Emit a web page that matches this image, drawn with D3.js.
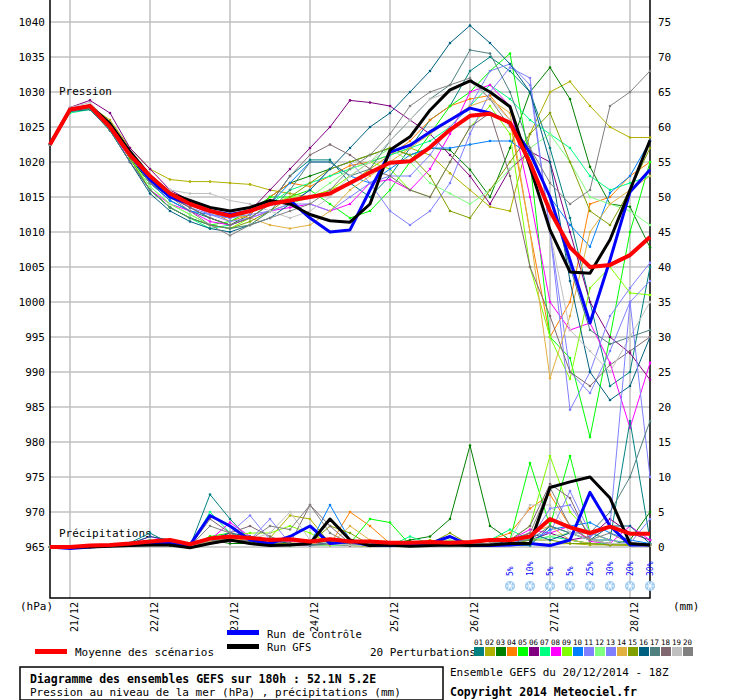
<!DOCTYPE html>
<html><head><meta charset="utf-8">
<script src="https://cdn.jsdelivr.net/npm/d3@7"></script>
<style>body{margin:0;background:#fff}text{font-family:"DejaVu Sans Mono",monospace}</style>
</head><body>
<svg id="chart" width="740" height="700"></svg>
<script>
// time steps: 31 x 6h from 20/12 18Z
const dates = ['21/12','22/12','23/12','24/12','25/12','26/12','27/12','28/12'];
const pressTicks = [1040,1035,1030,1025,1020,1015,1010,1005,1000,995,990,985,980,975,970,965];
const precTicks = [75,70,65,60,55,50,45,40,35,30,25,20,15,10,5,0];

const meanP = [1022.5,1027.5,1028,1025,1021,1018,1015.5,1014,1013,1012.3,1013,1014,1014.5,1015,1015.5,1017,1018.5,1019.9,1020.1,1022.1,1024.6,1026.6,1026.9,1025.6,1019.9,1013,1007.8,1005,1005.3,1006.7,1009.3];
const ctrlP = [1022.5,1027.5,1028,1025,1021,1017.5,1015,1014,1013,1012.5,1013,1014,1014.5,1012,1010,1010.3,1016,1021.4,1022.4,1024.3,1026,1027.7,1027,1025.6,1021.3,1015,1006,997,1006,1015.7,1018.9];
const gfsP = [1022.5,1027.5,1028,1025.5,1021.5,1018,1015.5,1014.5,1013.5,1013,1013.5,1014.5,1014,1012.5,1011.6,1011.4,1014,1021.7,1023.6,1027.4,1030.3,1031.6,1030,1027.9,1019.3,1010.3,1004.3,1004.1,1008.9,1016,1023.1];

const meanR = [0,0,0.2,0.3,0.5,0.8,1,0.4,1.2,1.5,1.3,1,1.1,0.8,1.1,0.8,0.8,0.6,0.6,0.7,0.6,0.7,1,1,1.5,4,2.8,2,2.9,1.9,1.9];
const ctrlR = [0,-0.2,0,0.2,0.3,0.5,0.5,0.3,4.5,3,1,0.5,1.5,3,0.5,0.8,0.2,0.3,0.2,0.5,1.5,0.2,0.2,0.3,0.5,0.2,1,7.8,3,0.3,0.3];
const gfsR = [0,0,0,0.1,0.2,0.3,0.3,-0.1,0.5,1,0.5,0.2,0.3,0.5,4,1,0.2,0.3,0.1,0.2,0.3,0.2,0.3,0.5,0.5,8.5,9.3,10,7,0.5,0.3];

const pertColors = ['#008080','#b0b000','#008000','#ff8000','#00ff00','#800080','#00ff80','#ff00ff','#80ff00','#0080ff','#8080ff','#80ff80','#8080ff','#e0b040','#80a000','#006080','#508080','#806870','#c0c0c0','#808080'];

const pertP = [
 [1022.5,1027.5,1028,1025,1020.5,1017,1014.5,1013,1012,1011,1012,1014,1018,1020.3,1020.3,1017,1015,1018,1022,1026,1028,1033,1035,1033,1030,1022,1012,1000,988,990,1005],
 [1022.5,1027.5,1028,1026,1022,1019,1017.5,1017.2,1017.2,1017,1016.8,1016,1015.5,1015,1016,1017,1019,1021,1022,1021,1018.4,1016,1013.6,1013,1024,1030,1031.5,1028,1025,1023.5,1023.5],
 [1022.5,1027.3,1027.7,1025,1020.5,1017,1015,1013.5,1012,1011,1012.5,1015,1017,1018,1019,1020,1021,1022,1021,1022,1021.7,1018.9,1015,1022,1030,1033.5,1029,1019.3,1014,1013.6,1007.8],
 [1022.5,1027.5,1028,1025,1021,1017.5,1015,1014,1013,1011.5,1012.5,1015,1017,1016.5,1018,1019.5,1020,1021,1023,1026,1028,1029,1029.5,1026,1010,995,1000,1014,1015,1018,1020],
 [1022.5,1027.5,1028,1025,1020.5,1016,1013.5,1012,1011,1011.5,1013,1015,1015,1016,1014,1012,1013,1016,1020,1024,1028,1030,1033,1035.5,1020,995,992,980.7,995,1010,1020],
 [1022.5,1027.8,1028.8,1027,1022,1019,1016,1014.5,1013,1012,1013,1016,1019,1022,1025,1028.8,1028.5,1028,1026,1024,1021,1018,1014,1019,1021.5,1020,1010,1000,995,992.7,988.9],
 [1022.5,1027,1027.5,1024.5,1020,1016,1013.5,1012,1010.5,1011,1012,1014,1016,1017,1018,1019,1020,1021,1022,1023,1025,1028,1031,1029,1026,1024,1022,1018,1016,1017,1018],
 [1022.5,1027.5,1028,1025,1020,1016,1014,1013,1011.5,1011,1012,1013,1013.5,1014,1013,1014,1017,1017.5,1016,1019,1024,1030,1031,1028,1015,1000,996,997,991.3,982,991.3],
 [1022.5,1027.5,1028,1025,1020.5,1016.5,1014,1012.5,1011,1010.5,1012,1014,1015,1015,1016,1018,1020,1019,1016,1015,1020,1025,1028,1024,1005,995,989,1002,1005,1001.3,1001],
 [1022.5,1027.5,1028,1025,1021,1017,1014.5,1013,1012.5,1012,1013,1014,1017,1020,1020,1018,1017,1019,1021,1022,1022,1022.5,1023,1023,1021,1015,1011,1007.9,1015.6,1018,1023],
 [1022.5,1027.5,1028,1025,1021,1017.5,1015,1014,1012.5,1011.5,1012,1013,1014,1016,1019,1020,1017,1013,1011,1013,1017,1024,1030,1033.5,1032,1010,984.6,990,998,1002,1005.6],
 [1022.5,1027.5,1028,1025,1020.5,1016.5,1014,1012.5,1011,1010.5,1011,1013,1014,1015,1017,1019,1020,1022,1020,1017,1015.5,1014,1016,1019,1022,1024,1020,1015,1014,1013,1011],
 [1022.5,1027.5,1028,1025,1021,1017,1015,1013.5,1012.5,1012,1012.5,1013,1014,1014,1013,1015,1017,1018,1018,1021,1025,1028,1033,1034,1031,1010,990,987,993,1000,1003],
 [1022.5,1027.5,1028,1025,1021,1017.5,1015,1014,1013,1012.5,1012,1011,1010.5,1011,1013,1016,1018,1020,1022,1024,1026,1028,1029,1027,1010,989.1,998,1010,1014,1016,1018],
 [1022.5,1027.3,1027.7,1025,1020.5,1016,1013.5,1012,1011,1010.5,1011.5,1013,1015,1017,1019,1020,1021,1022,1021,1018,1013,1012,1016,1020,1024,1027,1020,1013,1011,1016,1022],
 [1022.5,1027.2,1027.5,1024.5,1020,1015.5,1013,1011.5,1010.5,1010,1011,1012,1014,1016,1019,1022,1025,1027,1030,1033,1037,1039.5,1037,1034,1030,1020,1003,990,986,988,995],
 [1022.5,1027.3,1027.6,1024.5,1020,1016,1013.5,1012,1011,1010.5,1011,1013,1016,1020,1020,1018,1019,1023,1026,1029,1031,1036,1035.5,1030,1022,1015,1005,996,994,995,996],
 [1022.5,1027.5,1028,1025,1021,1017,1015,1013.5,1012,1011,1012,1014,1018,1021,1022.5,1021,1019,1018,1016,1015,1020,1025,1027,1018,1005,998,990,988,991,993,995],
 [1022.5,1027.8,1028.5,1025.5,1021.5,1018,1016,1015.5,1015.5,1014.5,1014,1013,1012,1013,1015,1018,1020,1023,1026,1029,1030,1031.5,1029,1026,1020,1010,996,993,990,995,1000],
 [1022.5,1027.5,1028,1025,1021,1017,1015,1013,1011,1009.5,1011,1012,1013,1014,1016,1019,1021,1024,1028,1030,1031,1032,1029,1025,1022,1017,1014,1016,1028,1030,1033]
];

const pertR = [
 [0,0,0,0.2,0.6,2,0.5,0.1,7.5,4,1,0.3,1,0.5,0.2,0.3,0.2,0.1,0.2,0.3,0.4,0.1,0.5,0.3,0.2,3,2,1,1,18,1],
 [0,0,0.1,0.2,0.4,0.6,0.3,0.1,1.5,1,0.5,1.3,4.5,4,0.5,0.2,0.1,0.3,0.2,1,0.5,0.2,0.3,0.6,0.5,0.4,0.5,0.3,0.3,0.2,0.2],
 [0,0,0,0.1,0.2,0.3,0.2,0.1,1,0.5,0.5,1,0.3,0.5,0.8,0.3,0.5,0.3,1,1.5,4,14.5,3,1,0.5,0.3,1,0.5,0.3,1,5],
 [0,0,0.2,0.3,0.3,0.5,0.6,0.1,0.8,1.2,1,0.5,0.3,0.5,0.3,5,3,0.5,0.2,0.3,0.2,0.3,1,2,5.5,7.5,3,1,0.5,0.5,0.3],
 [0,0,0.1,0.2,0.3,0.5,0.8,0.1,1.5,2,1,0.5,0.2,0.5,0.3,0.5,4,3.5,0.3,0.5,0.5,0.3,1,1,12,3,13,2,1,0.5,0.3],
 [0,0,0,0.1,0.2,0.3,0.3,0.1,0.5,0.8,1,0.5,0.3,0.2,0.3,0.2,0.4,0.3,0.2,0.3,0.3,0.2,0.5,0.8,1,2,1,1.5,4,2,1],
 [0,0,0.2,0.3,0.5,1,0.5,0.1,5,2,1,0.5,0.5,0.3,0.5,0.5,0.3,0.2,1.5,0.5,0.3,0.2,1,2.5,1,1.5,1,0.5,0.5,0.3,0.3],
 [0,0,0.1,0.2,0.4,1.5,0.8,0.1,1,3.5,1.5,0.5,0.8,0.6,0.4,0.5,0.3,0.2,0.3,0.2,0.3,0.2,0.5,1,2.5,2,3,0.8,0.5,3,1],
 [0,0,0.1,0.2,0.3,0.5,0.4,0.1,1,1.5,2,2,3,2,0.5,0.3,0.2,0.3,0.2,0.3,0.2,0.4,0.5,1,3,13,5,2,1,0.5,0.5],
 [0,0,0,0.1,0.3,0.5,0.5,0.1,0.8,1,0.5,0.5,1,0.5,6,1,0.5,0.3,0.2,0.3,0.5,0.3,0.4,0.5,0.5,2.5,3,3.5,2,1,0.5],
 [0,0,0.1,0.2,0.3,0.5,0.8,0.1,1,2,4.5,1,0.5,0.3,0.5,0.3,0.2,0.3,0.2,0.3,0.2,0.5,0.4,0.5,1,5.5,6,1.5,3,35,10],
 [0,0,0.1,0.1,0.2,0.4,0.6,0.1,1,1.5,1,0.5,0.5,0.3,0.2,0.3,0.2,0.3,0.2,0.5,1,0.3,0.5,1,1,1.5,2,1,0.5,0.5,0.5],
 [0,0,0.1,0.2,0.3,0.5,0.5,0.1,0.8,1.5,1,4,0.5,0.3,0.5,0.5,0.3,0.2,0.2,0.3,0.3,0.2,0.4,0.5,1.5,2,8,2,1,0.5,4],
 [0,0,0.1,0.2,0.3,0.4,0.5,0.1,0.8,1,0.8,0.5,0.6,0.5,0.3,3,1,0.3,0.2,0.3,0.3,0.2,0.3,0.5,2,3,1,0.5,0.3,0.3,0.2],
 [0,0,0.1,0.2,0.3,0.4,0.3,0.1,0.5,1,0.5,0.5,0.5,0.5,3,2,0.3,0.2,0.3,0.5,2,0.3,0.2,0.3,1,1,0.5,0.5,0.3,0.3,0.2],
 [0,0,0.1,0.2,0.5,1.5,1,0.1,1,2,1.5,1,0.5,0.3,0.5,0.5,0.3,0.2,0.2,0.3,0.3,0.5,0.3,1,2,1,2,1,3,3,0.5],
 [0,0,0.1,0.2,0.3,0.4,0.5,0.1,1,1,0.8,0.5,0.3,0.3,0.5,0.5,0.3,0.2,0.2,0.3,0.3,0.5,1,1,1,3,2,2,5,10,18],
 [0,0,0.1,0.2,0.3,0.4,0.5,0.1,4,2,3,1.5,0.5,6,3,0.5,0.3,0.2,0.3,0.2,0.3,0.5,0.5,1,3,9,7,1,0.5,0.5,0.3],
 [0,0,0.1,0.2,0.3,0.4,0.5,0.1,1,1.5,1,2,5,1,0.5,0.3,0.2,0.3,0.2,0.3,0.2,0.3,0.5,1,6,6,2,1,0.5,0.5,0.3],
 [0,0,0.1,0.2,0.3,0.5,0.5,0.1,3,2,1,3,2.5,6,2,0.5,0.3,0.2,0.2,0.3,0.3,0.5,0.5,1,2,8.5,3,1,2,0.5,0.3]
];

const snowIdx = [23,24,25,26,27,28,29,30];
const snowPct = ['5%','10%','5%','5%','25%','30%','20%','30%'];

const svg = d3.select('#chart');
const x = d3.scaleLinear().domain([0, 30]).range([50, 650]);
const yP = d3.scaleLinear().domain([965, 1040]).range([547, 22]);
const yR = d3.scaleLinear().domain([0, 75]).range([547, 22]);
const dayX = dates.map((d, i) => 1 + 4 * i);   // 00Z of each day

// grid
svg.append('g').selectAll('line').data(pressTicks).enter().append('line')
  .attr('x1', 50).attr('x2', 650).attr('y1', d => yP(d)).attr('y2', d => yP(d))
  .attr('stroke', '#c0c0c0').attr('stroke-width', 1.5);
svg.append('g').selectAll('line').data(dayX).enter().append('line')
  .attr('x1', d => x(d)).attr('x2', d => x(d)).attr('y1', 0).attr('y2', 598)
  .attr('stroke', '#c0c0c0').attr('stroke-width', 1.5);

// frame
svg.append('path').attr('d', 'M50,0V598H650V0').attr('fill', 'none').attr('stroke', '#000').attr('stroke-width', 1.5);

// axes labels
const left = svg.append('g').attr('transform', 'translate(50,0)')
  .call(d3.axisLeft(yP).tickValues(pressTicks).tickFormat(d3.format('d')).tickSize(0).tickPadding(5));
const right = svg.append('g').attr('transform', 'translate(650,0)')
  .call(d3.axisRight(yR).tickValues(precTicks).tickFormat(d3.format('d')).tickSize(0).tickPadding(8));
[left, right].forEach(g => {
  g.select('.domain').remove();
  g.selectAll('text').attr('font-family', 'DejaVu Sans Mono').attr('font-size', 11).attr('fill', '#000');
});

svg.append('g').selectAll('text').data(dayX).enter().append('text')
  .attr('transform', d => `translate(${x(d) + 8},602) rotate(-90)`)
  .attr('text-anchor', 'end').attr('font-size', 10).text((d, i) => dates[i]);

const txt = (s, tx, ty, opts = {}) => svg.append('text').attr('x', tx).attr('y', ty)
  .attr('font-size', opts.size || 11).attr('font-weight', opts.bold ? 'bold' : null)
  .attr('text-anchor', opts.anchor || 'start').text(s);

txt('Pression', 59, 95);
txt('Précipitations', 59, 537);
txt('(hPa)', 20, 610);
txt('(mm)', 673, 610);

// series
const lineP = d3.line().x((d, i) => x(i)).y(d => yP(d));
const lineR = d3.line().x((d, i) => x(i)).y(d => yR(d));
const plot = svg.append('g');

pertP.forEach((s, k) => {
  plot.append('path').attr('d', lineP(s)).attr('fill', 'none').attr('stroke', pertColors[k]).attr('stroke-width', 1);
  plot.append('g').selectAll('circle').data(s).enter().append('circle')
    .attr('cx', (d, i) => x(i)).attr('cy', d => yP(d)).attr('r', 1.3).attr('fill', pertColors[k]);
});
pertR.forEach((s, k) => {
  plot.append('path').attr('d', lineR(s)).attr('fill', 'none').attr('stroke', pertColors[k]).attr('stroke-width', 1);
  plot.append('g').selectAll('circle').data(s).enter().append('circle')
    .attr('cx', (d, i) => x(i)).attr('cy', d => yR(d)).attr('r', 1.3).attr('fill', pertColors[k]);
});

const thick = (d, c, w) => plot.append('path').attr('d', d).attr('fill', 'none').attr('stroke', c).attr('stroke-width', w).attr('stroke-linejoin', 'round');
thick(lineR(ctrlR), '#0000ff', 3);
thick(lineR(gfsR), '#000', 3);
thick(lineR(meanR), '#ff0000', 4);
thick(lineP(ctrlP), '#0000ff', 3);
thick(lineP(gfsP), '#000', 3);
thick(lineP(meanP), '#ff0000', 4);

// snow symbols
const snow = svg.append('g').selectAll('g').data(snowIdx).enter().append('g')
  .attr('transform', d => `translate(${x(d)},586)`);
snow.append('circle').attr('r', 5).attr('fill', '#9ecbf0');
[0, 60, 120].forEach(a => snow.append('line').attr('x1', -4).attr('x2', 4)
  .attr('transform', `rotate(${a})`).attr('stroke', '#fff').attr('stroke-width', 1));
svg.selectAll('.pct').data(snowIdx).enter().append('text')
  .attr('transform', d => `translate(${x(d) + 3},576) rotate(-90)`)
  .attr('font-size', 8).attr('fill', '#0000ff')
  .text((d, i) => snowPct[i]);

// legend
svg.append('rect').attr('x', 35).attr('y', 649).attr('width', 32).attr('height', 5).attr('fill', '#ff0000');
txt('Moyenne des scénarios', 75, 656);
svg.append('rect').attr('x', 227).attr('y', 630).attr('width', 32).attr('height', 5).attr('fill', '#0000ff');
txt('Run de contrôle', 267, 638, { size: 10.5 });
svg.append('rect').attr('x', 227).attr('y', 644).attr('width', 32).attr('height', 5).attr('fill', '#000');
txt('Run GFS', 267, 651, { size: 10.5 });
txt('20 Perturbations', 370, 656);
pertColors.forEach((c, i) => {
  svg.append('rect').attr('x', 474 + i * 11).attr('y', 647).attr('width', 10).attr('height', 9).attr('fill', c);
  txt(String(i + 1).padStart(2, '0'), 474 + i * 11, 645, { size: 7.5 });
});

svg.append('rect').attr('x', 20).attr('y', 667).attr('width', 423).attr('height', 33)
  .attr('fill', 'none').attr('stroke', '#000').attr('stroke-width', 1.5);
txt('Diagramme des ensembles GEFS sur 180h : 52.1N 5.2E', 30, 683, { bold: true, size: 11.5 });
txt('Pression au niveau de la mer (hPa) , précipitations (mm)', 30, 696, { size: 11 });
txt('Ensemble GEFS du 20/12/2014 - 18Z', 450, 676);
txt('Copyright 2014 Meteociel.fr', 450, 696, { bold: true, size: 11.5 });
</script>
</body></html>
